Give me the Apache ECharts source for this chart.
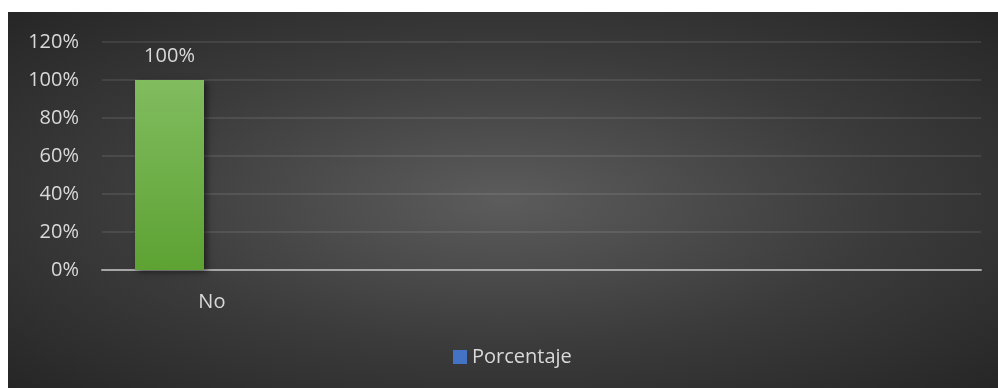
<!DOCTYPE html>
<html>
<head>
<meta charset="utf-8">
<script src="https://cdn.jsdelivr.net/npm/echarts@6/dist/echarts.min.js"></script>
<style>
  html, body { margin: 0; padding: 0; background: #ffffff; }
  body { width: 998px; height: 388px; position: relative; overflow: hidden; }
  #chart {
    position: absolute; left: 8px; top: 12px; width: 990px; height: 376px;
    background: radial-gradient(ellipse farthest-corner at 50% 50%, #5c5c5c 0%, #3b3b3b 55%, #262626 100%);
  }
</style>
</head>
<body>
<div id="chart"></div>
<script>
// Categories along the x axis (only the first one carries a label)
const categories = ['No', '', '', ''];
// Share of answers per category (fraction of 1)
const porcentaje = [1, null, null, null];
// Companion column slot in each category cluster (no values)
const companion = [null, null, null, null];
// Y axis range and step
const yMin = 0;
const yMax = 1.2;
const yStep = 0.2;

const textColor = '#d9d9d9';
const fontFamily = '"Open Sans", "Liberation Sans", sans-serif';

const pct = v => Math.round(v * 100) + '%';

const chart = echarts.init(document.getElementById('chart'), null, { renderer: 'canvas' });

chart.setOption({
  backgroundColor: 'transparent',
  animation: false,
  textStyle: { fontFamily: fontFamily },
  grid: { left: 94, right: 17, top: 30, bottom: 118, containLabel: false },
  legend: {
    data: ['Porcentaje'],
    left: 440,
    top: 330,
    icon: 'rect',
    itemWidth: 14,
    itemHeight: 14,
    itemGap: 10,
    textStyle: { color: textColor, fontSize: 20, fontFamily: fontFamily }
  },
  xAxis: {
    type: 'category',
    data: categories,
    axisLine: { show: true, lineStyle: { color: '#a6a6a6', width: 2 } },
    axisTick: { show: false },
    axisLabel: { color: textColor, fontSize: 20, margin: 22, fontFamily: fontFamily }
  },
  yAxis: {
    type: 'value',
    min: yMin,
    max: yMax,
    interval: yStep,
    axisLine: { show: false },
    axisTick: { show: false },
    splitLine: { lineStyle: { color: 'rgba(255,255,255,0.085)', width: 2 } },
    axisLabel: { color: textColor, fontSize: 20, margin: 23, fontFamily: fontFamily, formatter: pct }
  },
  series: [
    {
      name: 'Porcentaje',
      type: 'bar',
      barWidth: 69,
      barGap: '22.8%',
      itemStyle: {
        color: '#4472c4',
        shadowColor: 'rgba(0,0,0,0.5)',
        shadowBlur: 6,
        shadowOffsetX: 3,
        shadowOffsetY: 2
      },
      data: porcentaje.map(v => v == null ? null : {
        value: v,
        itemStyle: {
          color: new echarts.graphic.LinearGradient(0, 0, 0, 1, [
            { offset: 0, color: '#81bc5f' },
            { offset: 1, color: '#5da233' }
          ])
        }
      }),
      label: {
        show: true,
        position: 'top',
        distance: 14,
        color: textColor,
        fontSize: 20,
        fontFamily: fontFamily,
        formatter: p => pct(p.value)
      }
    },
    {
      type: 'bar',
      data: companion,
      barWidth: 69
    }
  ]
});
</script>
</body>
</html>
